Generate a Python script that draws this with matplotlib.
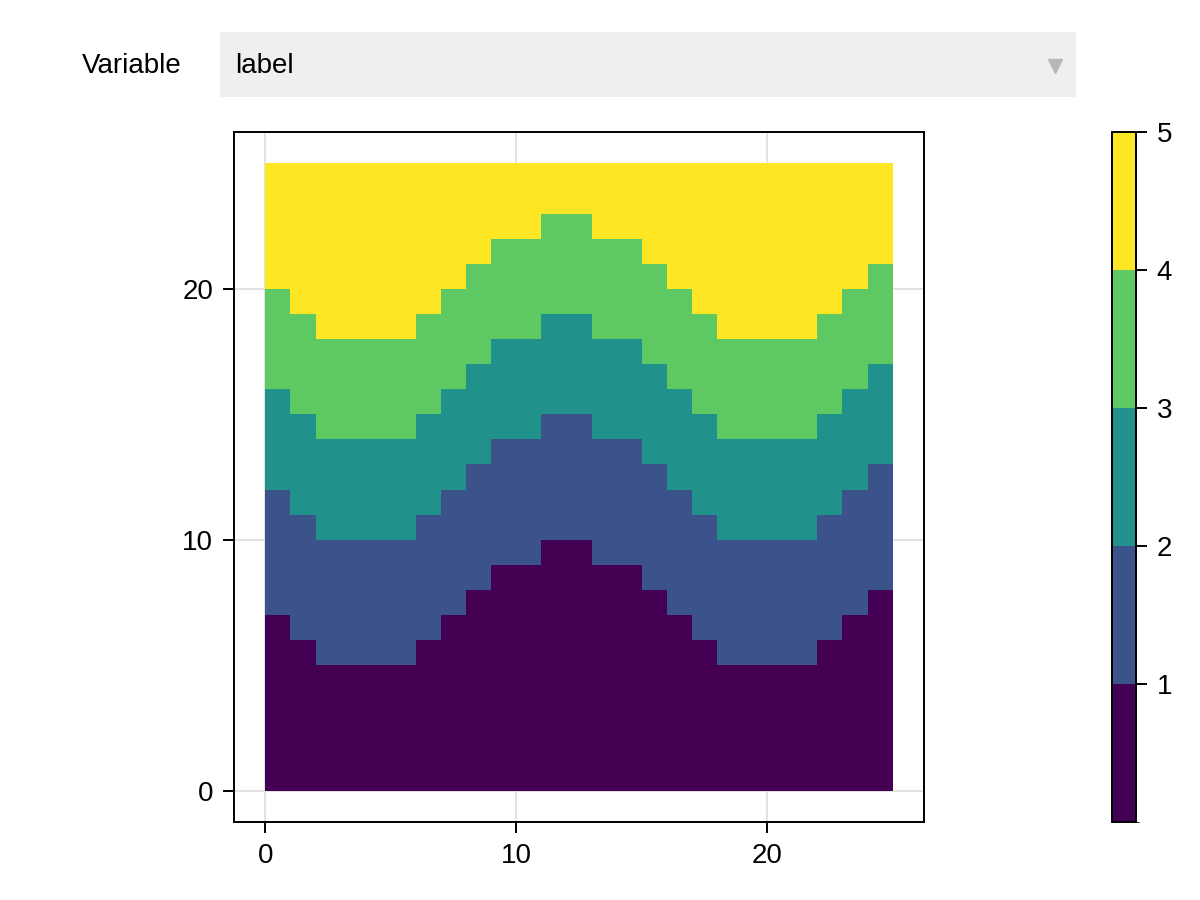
import numpy as np
import matplotlib.pyplot as plt
from matplotlib.colors import ListedColormap, BoundaryNorm
from matplotlib.cm import ScalarMappable
from matplotlib.patches import Rectangle

plt.rcParams['font.family'] = ['Liberation Sans', 'DejaVu Sans']
fs = 20

# label values and their colours (viridis, 5 steps)
labels = [1, 2, 3, 4, 5]
colors = ['#440154', '#3b528b', '#21918c', '#5ec962', '#fde725']

# top edge of each label band, per column (25 columns, 25 rows)
top1 = [7, 6, 5, 5, 5, 5, 6, 7, 8, 9, 9, 10, 10, 9, 9, 8, 7, 6, 5, 5, 5, 5, 6, 7, 8]
top2 = [12, 11, 10, 10, 10, 10, 11, 12, 13, 14, 14, 15, 15, 14, 14, 13, 12, 11, 10, 10, 10, 10, 11, 12, 13]
top3 = [16, 15, 14, 14, 14, 14, 15, 16, 17, 18, 18, 19, 19, 18, 18, 17, 16, 15, 14, 14, 14, 14, 15, 16, 17]
top4 = [20, 19, 18, 18, 18, 18, 19, 20, 21, 22, 22, 23, 23, 22, 22, 21, 20, 19, 18, 18, 18, 18, 19, 20, 21]
n = 25

# build the label grid
z = np.full((n, n), labels[4])
for j in range(n):
    for i in range(n):
        if i < top1[j]:
            z[i, j] = labels[0]
        elif i < top2[j]:
            z[i, j] = labels[1]
        elif i < top3[j]:
            z[i, j] = labels[2]
        elif i < top4[j]:
            z[i, j] = labels[3]

cmap = ListedColormap(colors)

fig = plt.figure(figsize=(12, 9), dpi=100)

# dropdown menu look-alike at the top
fig.patches.append(Rectangle((220/1200, 1-97/900), 856/1200, 65/900,
                             transform=fig.transFigure, facecolor='#efefef',
                             edgecolor='none', zorder=0))
fig.text(82/1200, 1-66/900, 'Variable', ha='left', va='center', fontsize=fs)
fig.text(235/1200, 1-66/900, 'label', ha='left', va='center', fontsize=fs)
fig.lines.append(plt.Line2D([1055/1200], [1-66/900], marker='v', markersize=10,
                            color='#b8b8b8', transform=fig.transFigure))

# heatmap
ax = fig.add_axes([234/1200, 1-822/900, 690/1200, 690/900])
edges = np.arange(n + 1)
ax.pcolormesh(edges, edges, z, cmap=cmap, vmin=0.5, vmax=5.5)
ax.set_xlim(-1.25, 26.25)
ax.set_ylim(-1.25, 26.25)
ax.set_xticks([0, 10, 20])
ax.set_yticks([0, 10, 20])
ax.set_axisbelow(True)
ax.grid(True, color='#e3e3e3', linewidth=1.4)
for s in ax.spines.values():
    s.set_linewidth(1.4)
ax.tick_params(length=8, width=1.4, pad=7, labelsize=fs)

# colorbar
cax = fig.add_axes([1112/1200, 1-822/900, 24/1200, 690/900])
sm = ScalarMappable(norm=BoundaryNorm([0, 1, 2, 3, 4, 5], 5), cmap=cmap)
cb = fig.colorbar(sm, cax=cax, ticks=labels)
cb.outline.set_linewidth(1.4)
cax.tick_params(length=8, width=1.4, pad=7, labelsize=fs)

fig.savefig('out.png', dpi=100)
